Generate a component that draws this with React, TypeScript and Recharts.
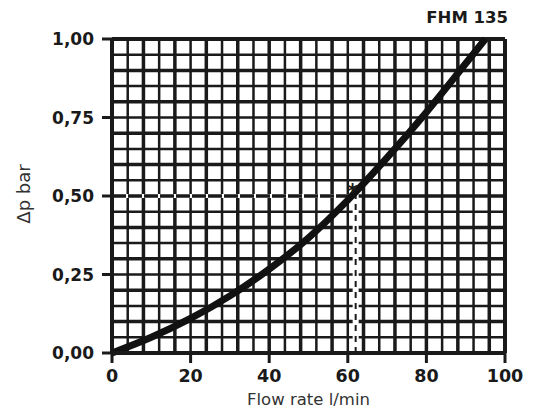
import { Line, LineChart, ReferenceLine, XAxis, YAxis } from "recharts";

// Pressure drop curve, FHM 135
const flowRate = [0, 10, 20, 30, 40, 50, 60, 70, 80, 90, 95];
const pressureDrop = [0, 0.05, 0.11, 0.182, 0.267, 0.367, 0.487, 0.622, 0.767, 0.922, 1.0];

const xTicks = [0, 20, 40, 60, 80, 100];
const yTicks = [0, 0.25, 0.5, 0.75, 1];

// operating point marked on the curve
const opFlow = 62;
const opDrop = 0.5;

const data = flowRate.map((q, i) => ({ q, dp: pressureDrop[i] }));

const gridX: number[] = [];
for (let v = 4; v <= 100; v += 4) gridX.push(v);
const gridY: number[] = [];
for (let i = 1; i <= 20; i++) gridY.push(+(i * 0.05).toFixed(2));

const INK = "#1a1a1a";
const fmt = (v: number) => v.toFixed(2).replace(".", ",");

export default function App() {
  return (
    <div style={{ position: "absolute", left: 0, top: 0, width: 541, height: 413, background: "#fff" }}>
      <LineChart
        width={541}
        height={413}
        data={data}
        margin={{ top: 39, right: 36, bottom: 0, left: 0 }}
      >
        <XAxis
          type="number"
          dataKey="q"
          domain={[0, 100]}
          ticks={xTicks}
          height={60}
          tickSize={10}
          tickMargin={7}
          stroke={INK}
          strokeWidth={4}
          tickLine={{ stroke: INK, strokeWidth: 3 }}
          tick={{ fontFamily: "DejaVu Sans", fontWeight: 700, fontSize: 17.5, fill: INK }}
        />
        <YAxis
          type="number"
          domain={[0, 1]}
          ticks={yTicks}
          width={112}
          tickSize={10}
          tickMargin={8}
          stroke={INK}
          strokeWidth={4}
          tickFormatter={fmt}
          tickLine={{ stroke: INK, strokeWidth: 3 }}
          tick={{ fontFamily: "DejaVu Sans", fontWeight: 700, fontSize: 17, fill: INK }}
        />
        {gridX.map((v) => (
          <ReferenceLine
            key={"gx" + v}
            x={v}
            stroke={INK}
            strokeWidth={v === 100 ? 4 : v % 8 === 0 ? 3.5 : 2.5}
          />
        ))}
        {gridY.map((v, i) => (
          <ReferenceLine
            key={"gy" + v}
            y={v}
            stroke={INK}
            strokeWidth={v === 1 ? 4 : i % 2 === 1 ? 3.5 : 2.5}
          />
        ))}
        {/* dashed guides to the operating point */}
        <ReferenceLine
          segment={[{ x: 0, y: opDrop }, { x: opFlow, y: opDrop }]}
          stroke="#fff"
          strokeWidth={4}
        />
        <ReferenceLine
          segment={[{ x: 0, y: opDrop }, { x: opFlow, y: opDrop }]}
          stroke={INK}
          strokeWidth={3.5}
          strokeDasharray="14 2"
        />
        <ReferenceLine
          segment={[{ x: opFlow, y: 0 }, { x: opFlow, y: opDrop + 0.02 }]}
          stroke="#fff"
          strokeWidth={6}
        />
        <ReferenceLine
          segment={[{ x: opFlow, y: 0 }, { x: opFlow, y: opDrop + 0.02 }]}
          stroke={INK}
          strokeWidth={2}
          strokeDasharray="6 5"
        />
        <ReferenceLine
          segment={[{ x: opFlow - 0.8, y: opDrop + 0.015 }, { x: opFlow - 0.8, y: opDrop + 0.016 }]}
          stroke="none"
          label={{ value: "*", position: "center", fontFamily: "DejaVu Sans", fontWeight: 700, fontSize: 22, fill: INK }}
        />
        <Line
          type="monotone"
          dataKey="dp"
          stroke="#111"
          strokeWidth={7}
          dot={false}
          isAnimationActive={false}
        />
      </LineChart>
      <div
        style={{
          position: "absolute",
          right: 33,
          top: 8,
          fontFamily: "DejaVu Sans",
          fontWeight: 700,
          fontSize: 16.5,
          color: INK,
          lineHeight: "20px",
        }}
      >
        FHM 135
      </div>
      <div
        style={{
          position: "absolute",
          left: 0,
          width: 617,
          top: 390,
          textAlign: "center",
          fontFamily: "DejaVu Sans",
          fontSize: 16.5,
          color: "#333",
          lineHeight: "20px",
        }}
      >
        Flow rate l/min
      </div>
      <div
        style={{
          position: "absolute",
          left: 24,
          top: 194,
          transform: "translate(-50%, -50%) rotate(-90deg)",
          fontFamily: "DejaVu Sans",
          fontSize: 18,
          color: "#333",
          lineHeight: "20px",
          whiteSpace: "nowrap",
        }}
      >
        Δp bar
      </div>
    </div>
  );
}
